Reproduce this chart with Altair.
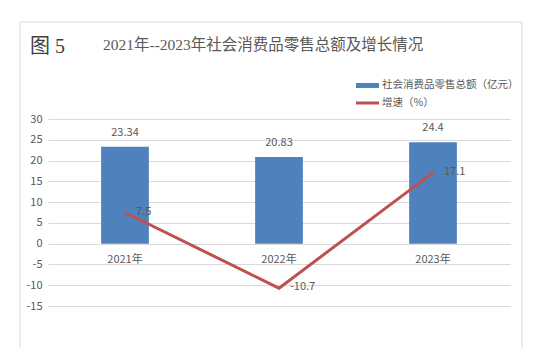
import altair as alt
import pandas as pd

years = ["2021年", "2022年", "2023年"]
sales = [23.34, 20.83, 24.4]
growth = [7.5, -10.7, 17.1]
y_ticks = [-15, -10, -5, 0, 5, 10, 15, 20, 25, 30]
fig_label = "图 5"
title_text = "2021年--2023年社会消费品零售总额及增长情况"
legend_bar = "社会消费品零售总额（亿元）"
legend_line = "增速（%）"

df = pd.DataFrame({
    "year": years,
    "sales": sales,
    "growth": growth,
    "sales_label": [str(v) for v in sales],
    "growth_label": [str(v) for v in growth],
})

W, H = 462, 187
CJK = "Noto Sans CJK SC"
GRAY = "#595959"
BLUE = "#4f81bd"
RED = "#c0504d"
FRAME = "#d9d9d9"

xenc = alt.X("year:N", sort=years,
             scale=alt.Scale(paddingInner=0.69, paddingOuter=0.345), axis=None)
yscale = alt.Scale(domain=[-15, 30], nice=False, zero=False)
yaxis = alt.Axis(values=y_ticks, title=None, domain=False, ticks=False, grid=True,
                 gridColor="#d9d9d9", gridWidth=1, labelColor=GRAY, labelFont=CJK,
                 labelFontSize=11, labelPadding=6, labelExpr="'' + datum.value")


def yenc(field):
    return alt.Y(field, scale=yscale, axis=yaxis)


base = alt.Chart(df)

bars = base.mark_bar(color=BLUE).encode(x=xenc, y=yenc("sales:Q"), y2=alt.datum(0))
bar_labels = base.mark_text(baseline="bottom", dy=-9, font=CJK, fontSize=11, color=GRAY).encode(
    x=xenc, y=yenc("sales:Q"), text="sales_label:N")
line = base.mark_line(color=RED, strokeWidth=3).encode(x=xenc, y=yenc("growth:Q"))
line_labels = base.mark_text(align="left", baseline="middle", dx=11, dy=-1, font=CJK,
                             fontSize=11, color=GRAY).encode(
    x=xenc, y=yenc("growth:Q"), text="growth_label:N")
cat_labels = base.mark_text(baseline="middle", dy=16, font=CJK, fontSize=11, color=GRAY).encode(
    x=xenc, y=alt.Y(datum=0, type="quantitative", scale=yscale, axis=yaxis), text="year:N")

one = pd.DataFrame({"a": [0]})

# frame
frame_left = alt.Chart(one).mark_rule(color=FRAME, strokeWidth=1).encode(
    x=alt.value(-28), y=alt.value(-97), y2=alt.value(229))
frame_right = alt.Chart(one).mark_rule(color=FRAME, strokeWidth=1).encode(
    x=alt.value(474), y=alt.value(-97), y2=alt.value(229))
frame_top = alt.Chart(one).mark_rule(color=FRAME, strokeWidth=1).encode(
    x=alt.value(-28), x2=alt.value(474), y=alt.value(-97))

# titles
fig_title = alt.Chart(pd.DataFrame({"t": [fig_label]})).mark_text(
    align="left", baseline="middle", font="Liberation Serif, Noto Sans CJK SC", fontSize=20,
    color="#404040").encode(x=alt.value(-18), y=alt.value(-72), text="t:N")
main_title = alt.Chart(pd.DataFrame({"t": [title_text]})).mark_text(
    align="left", baseline="middle", font="Liberation Serif, Noto Sans CJK SC", fontSize=15.5,
    color=GRAY).encode(x=alt.value(55), y=alt.value(-74), text="t:N")

# legend
leg_rect = alt.Chart(one).mark_rect(color=BLUE).encode(
    x=alt.value(308), x2=alt.value(331), y=alt.value(-36), y2=alt.value(-31))
leg_text1 = alt.Chart(pd.DataFrame({"t": [legend_bar]})).mark_text(
    align="left", baseline="middle", font=CJK, fontSize=10.5, color=GRAY).encode(
    x=alt.value(334), y=alt.value(-34), text="t:N")
leg_line = alt.Chart(one).mark_rule(color=RED, strokeWidth=3).encode(
    x=alt.value(308), x2=alt.value(331), y=alt.value(-16))
leg_text2 = alt.Chart(pd.DataFrame({"t": [legend_line]})).mark_text(
    align="left", baseline="middle", font=CJK, fontSize=10.5, color=GRAY).encode(
    x=alt.value(334), y=alt.value(-16), text="t:N")

chart = alt.layer(
    bars, bar_labels, line, line_labels, cat_labels,
    frame_left, frame_right, frame_top, fig_title, main_title,
    leg_rect, leg_text1, leg_line, leg_text2,
).properties(
    width=W, height=H,
    padding={"left": 40, "top": 111, "right": 20, "bottom": 44},
    autosize=alt.AutoSizeParams(type="none"),
    background="white",
).configure_view(stroke=None)

chart.save("out.html", embed_options={"renderer": "svg", "actions": False})
